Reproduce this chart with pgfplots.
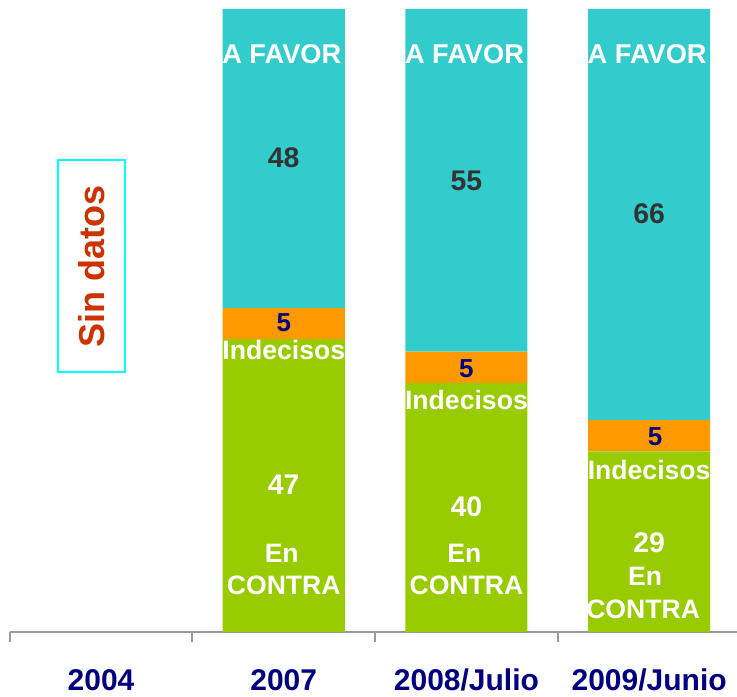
\documentclass[border=0pt]{standalone}
\usepackage{pgfplots}
\pgfplotsset{compat=1.18}
\usepackage{fontspec}
\setmainfont{Liberation Sans}
\definecolor{cfavor}{HTML}{33CCCC}
\definecolor{cindec}{HTML}{FF9900}
\definecolor{ccontra}{HTML}{99CC00}
\definecolor{cnavy}{HTML}{000080}
\definecolor{cnum}{HTML}{333333}
\definecolor{csin}{HTML}{CC3300}
\definecolor{caxis}{HTML}{999999}
\definecolor{cbox}{HTML}{00FFFF}
\begin{document}
\begin{tikzpicture}
\tikzset{lnum/.style={anchor=base, text=cnum, font=\fontsize{14.2}{16}\selectfont\bfseries},
  lwnum/.style={anchor=base, text=white, font=\fontsize{14.2}{16}\selectfont\bfseries},
  lfive/.style={anchor=base, text=cnavy, font=\fontsize{13}{15}\selectfont\bfseries},
  lwtxt/.style={anchor=base, text=white, font=\fontsize{13.3}{15}\selectfont\bfseries},
  lfav/.style={anchor=base, text=white, font=\fontsize{13.6}{15}\selectfont\bfseries}}
\begin{axis}[
  scale only axis,
  width=363.65pt, height=311.5pt,
  xmin=-0.5, xmax=3.481, ymin=0, ymax=100,
  ybar stacked, bar width=0.668,
  axis x line*=bottom, axis y line=none,
  x axis line style={caxis, line width=1pt},
  xtick={-0.5,0.5,1.5,2.5}, xticklabels={},
  major tick length=5pt, tick align=outside,
  tick style={caxis, line width=1pt},
  extra x ticks={0,1,2,3},
  extra x tick labels={2004,2007,2008/Julio,2009/Junio},
  extra x tick style={major tick length=0pt,
    tick label style={anchor=base, yshift=-29pt, text=cnavy,
      font=\fontsize{15}{17}\selectfont\bfseries}},
  ytick=\empty,
  clip=false,
]
\addplot[fill=ccontra, draw=none] coordinates {(1,47) (2,40) (3,29)};
\addplot[fill=cindec, draw=none] coordinates {(1,5) (2,5) (3,5)};
\addplot[fill=cfavor, draw=none] coordinates {(1,48) (2,55) (3,66)};
\coordinate (O) at (rel axis cs:0,0);
\coordinate (fa1) at (axis cs:1,91.2);
\coordinate (fa2) at (axis cs:2,91.2);
\coordinate (fa3) at (axis cs:3,91.2);
\coordinate (n1) at (axis cs:1,74.5);
\coordinate (n2) at (axis cs:2,70.9);
\coordinate (n3) at (axis cs:3,65.6);
\coordinate (f1) at (axis cs:1,48.3);
\coordinate (f2) at (axis cs:2,40.9);
\coordinate (f3) at (axis cs:3,29.9);
\coordinate (i1) at (axis cs:1,43.7);
\coordinate (i2) at (axis cs:2,35.7);
\coordinate (i3) at (axis cs:3,24.4);
\coordinate (c1) at (axis cs:1,22.0);
\coordinate (c2) at (axis cs:2,18.5);
\coordinate (c3) at (axis cs:3,12.8);
\coordinate (e1) at (axis cs:1,11.2);
\coordinate (e2) at (axis cs:2,11.2);
\coordinate (e3) at (axis cs:3,7.4);
\coordinate (k1) at (axis cs:1,6.0);
\coordinate (k2) at (axis cs:2,6.0);
\coordinate (k3) at (axis cs:3,2.2);
\coordinate (sd) at (axis cs:-0.052,58.7);
\end{axis}
\node[lfav, xshift=-1pt] at (fa1) {A FAVOR};
\node[lfav, xshift=-1pt] at (fa2) {A FAVOR};
\node[lfav, xshift=-1pt] at (fa3) {A FAVOR};
\node[lnum] at (n1) {48};
\node[lnum] at (n2) {55};
\node[lnum] at (n3) {66};
\node[lfive] at (f1) {5};
\node[lfive] at (f2) {5};
\node[lfive, xshift=3pt] at (f3) {5};
\node[lwtxt] at (i1) {Indecisos};
\node[lwtxt] at (i2) {Indecisos};
\node[lwtxt] at (i3) {Indecisos};
\node[lwnum] at (c1) {47};
\node[lwnum] at (c2) {40};
\node[lwnum] at (c3) {29};
\node[lwtxt, xshift=-1pt] at (e1) {En};
\node[lwtxt, xshift=-1pt] at (e2) {En};
\node[lwtxt, xshift=-2pt] at (e3) {En};
\node[lwtxt] at (k1) {CONTRA};
\node[lwtxt] at (k2) {CONTRA};
\node[lwtxt, xshift=-3pt] at (k3) {CONTRA};
\node[draw=cbox, line width=0.8pt, rotate=90, minimum width=106pt, minimum height=33.5pt,
  inner sep=0pt, text=csin, font=\fontsize{18}{20}\selectfont\bfseries]
  at (sd) {Sin datos};
\pgfresetboundingbox
\path[use as bounding box] ([xshift=-4.85pt,yshift=-32pt]O) rectangle ++(368.5pt,348pt);
\end{tikzpicture}
\end{document}
